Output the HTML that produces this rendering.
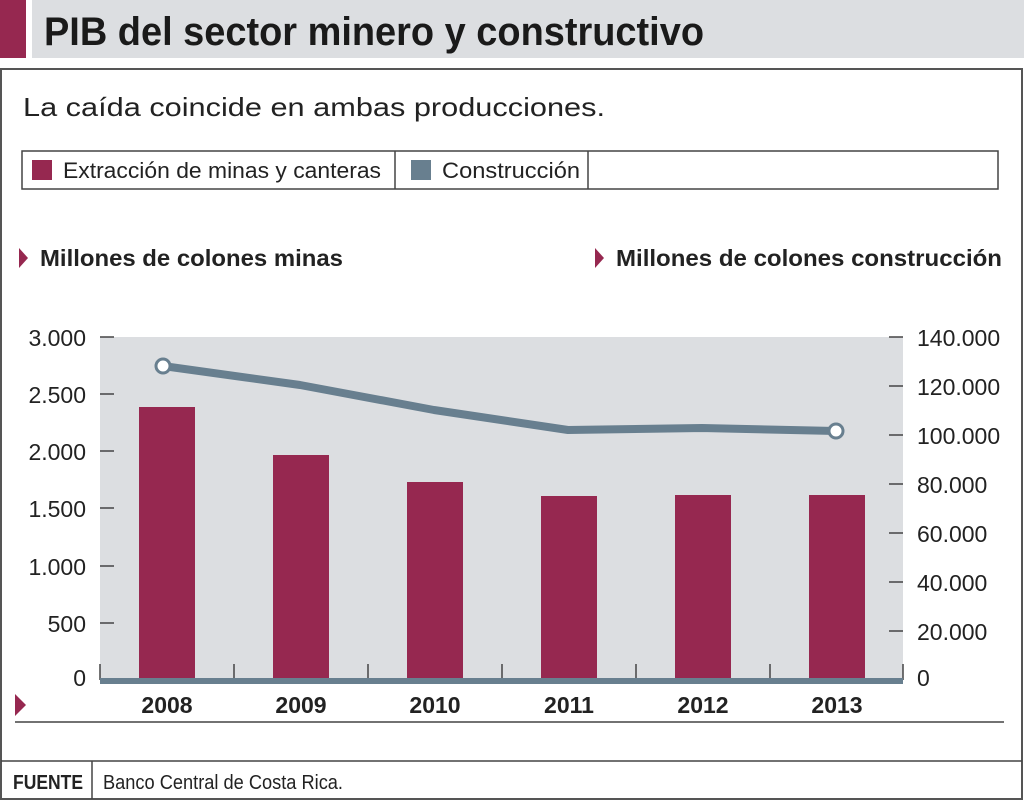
<!DOCTYPE html>
<html><head><meta charset="utf-8"><style>
body{margin:0;width:1024px;height:800px;background:#fff;overflow:hidden;font-family:"Liberation Sans",sans-serif;}
</style></head><body>
<svg width="1024" height="800" xmlns="http://www.w3.org/2000/svg" font-family="Liberation Sans, sans-serif">
<rect x="0" y="0" width="26" height="58" fill="#962850"/>
<rect x="32" y="0" width="992" height="58" fill="#dcdee1"/>
<text x="44" y="45" font-size="40" font-weight="bold" fill="#1a1a1a" textLength="660" lengthAdjust="spacingAndGlyphs">PIB del sector minero y constructivo</text>
<rect x="1" y="69" width="1021" height="730" fill="none" stroke="#555" stroke-width="2"/>
<text x="23" y="116" font-size="26" fill="#222" textLength="582" lengthAdjust="spacingAndGlyphs">La caída coincide en ambas producciones.</text>
<rect x="22" y="151" width="976" height="38" fill="none" stroke="#444" stroke-width="1.5"/>
<line x1="395" y1="151" x2="395" y2="189" stroke="#444" stroke-width="1.5"/>
<line x1="588" y1="151" x2="588" y2="189" stroke="#444" stroke-width="1.5"/>
<rect x="32" y="160" width="20" height="20" fill="#962850"/>
<text x="63" y="178" font-size="22" fill="#222" textLength="318" lengthAdjust="spacingAndGlyphs">Extracción de minas y canteras</text>
<rect x="411" y="160" width="20" height="20" fill="#687f8f"/>
<text x="442" y="178" font-size="22" fill="#222" textLength="138" lengthAdjust="spacingAndGlyphs">Construcción</text>
<polygon points="19,248 28,258 19,268" fill="#962850"/>
<text x="40" y="266" font-size="23" font-weight="bold" fill="#222" textLength="303" lengthAdjust="spacingAndGlyphs">Millones de colones minas</text>
<polygon points="595,248 604,258 595,268" fill="#962850"/>
<text x="616" y="266" font-size="23" font-weight="bold" fill="#222" textLength="386" lengthAdjust="spacingAndGlyphs">Millones de colones construcción</text>
<rect x="100" y="337" width="803" height="343" fill="#dcdee1"/>
<g stroke="#444" stroke-width="1.5">
<line x1="100" y1="337" x2="114" y2="337"/><line x1="100" y1="394" x2="114" y2="394"/><line x1="100" y1="451" x2="114" y2="451"/><line x1="100" y1="508" x2="114" y2="508"/><line x1="100" y1="566" x2="114" y2="566"/><line x1="100" y1="623" x2="114" y2="623"/>
<line x1="889" y1="337" x2="903" y2="337"/><line x1="889" y1="386" x2="903" y2="386"/><line x1="889" y1="435" x2="903" y2="435"/><line x1="889" y1="484" x2="903" y2="484"/><line x1="889" y1="533" x2="903" y2="533"/><line x1="889" y1="582" x2="903" y2="582"/><line x1="889" y1="631" x2="903" y2="631"/>
<line x1="100" y1="664" x2="100" y2="680"/><line x1="234" y1="664" x2="234" y2="680"/><line x1="368" y1="664" x2="368" y2="680"/><line x1="502" y1="664" x2="502" y2="680"/><line x1="636" y1="664" x2="636" y2="680"/><line x1="770" y1="664" x2="770" y2="680"/><line x1="903" y1="664" x2="903" y2="680"/>
</g>
<g fill="#962850">
<rect x="139" y="407" width="56" height="273"/><rect x="273" y="455" width="56" height="225"/><rect x="407" y="482" width="56" height="198"/><rect x="541" y="496" width="56" height="184"/><rect x="675" y="495" width="56" height="185"/><rect x="809" y="495" width="56" height="185"/>
</g>
<rect x="100" y="678" width="803" height="6" fill="#687f8f"/>
<polyline points="163,366 300,385 434,410 568,430 702,428 836,431" fill="none" stroke="#687f8f" stroke-width="8" stroke-linejoin="round"/>
<circle cx="163" cy="366" r="7" fill="#fff" stroke="#687f8f" stroke-width="3"/>
<circle cx="836" cy="431" r="7" fill="#fff" stroke="#687f8f" stroke-width="3"/>
<g font-size="23" fill="#222" text-anchor="end">
<text x="86" y="346">3.000</text><text x="86" y="403">2.500</text><text x="86" y="460">2.000</text><text x="86" y="517">1.500</text><text x="86" y="575">1.000</text><text x="86" y="632">500</text><text x="86" y="686">0</text>
</g>
<g font-size="23" fill="#222">
<text x="917" y="346">140.000</text><text x="917" y="395">120.000</text><text x="917" y="444">100.000</text><text x="917" y="493">80.000</text><text x="917" y="542">60.000</text><text x="917" y="591">40.000</text><text x="917" y="640">20.000</text><text x="917" y="686">0</text>
</g>
<g font-size="23" font-weight="bold" fill="#222" text-anchor="middle">
<text x="167" y="713">2008</text><text x="301" y="713">2009</text><text x="435" y="713">2010</text><text x="569" y="713">2011</text><text x="703" y="713">2012</text><text x="837" y="713">2013</text>
</g>
<polygon points="15,694 26,705 15,716" fill="#962850"/>
<line x1="15" y1="722" x2="1004" y2="722" stroke="#444" stroke-width="1.5"/>
<line x1="1" y1="761" x2="1022" y2="761" stroke="#444" stroke-width="1.5"/>
<line x1="92" y1="761" x2="92" y2="799" stroke="#444" stroke-width="1.5"/>
<text x="13" y="789" font-size="20" font-weight="bold" fill="#222" textLength="70" lengthAdjust="spacingAndGlyphs">FUENTE</text>
<text x="103" y="789" font-size="20" fill="#222" textLength="240" lengthAdjust="spacingAndGlyphs">Banco Central de Costa Rica.</text>
</svg>
</body></html>
